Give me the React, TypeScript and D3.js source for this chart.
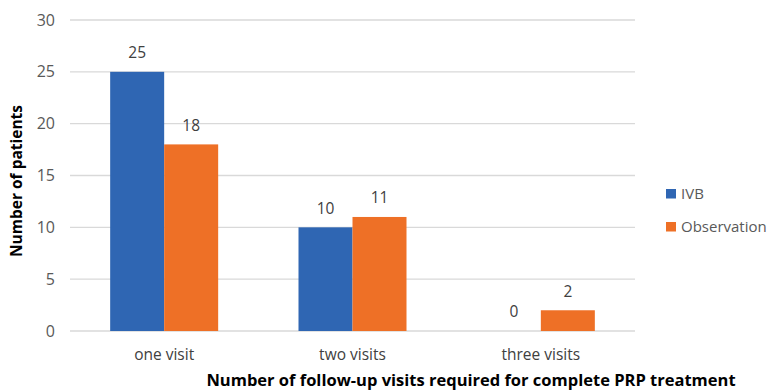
import React from "react";
import * as d3 from "d3";

const categories = ["one visit", "two visits", "three visits"];
const seriesNames = ["IVB", "Observation"];
const ivb = [25, 10, 0];
const observation = [18, 11, 2];
const yTicks = [0, 5, 10, 15, 20, 25, 30];
const colors = ["#2F66B3", "#EE7026"];

export default function App() {
  const W = 767, H = 390;
  const left = 70, right = 635, top = 20, bottom = 331;
  const x0 = d3.scaleBand().domain(categories).range([left, right]).paddingInner(0).paddingOuter(0);
  const bw = 54;
  const x1 = d3.scaleBand().domain(seriesNames).range([0, bw * 2]);
  const y = d3.scaleLinear().domain([0, 30]).range([bottom, top]);
  const data = [ivb, observation];
  const font = "'Open Sans', 'DejaVu Sans', sans-serif";
  return (
    <svg width={W} height={H} style={{ position: "absolute", left: 0, top: 0 }} fontFamily={font}>
      <rect width={W} height={H} fill="#fff" />
      {yTicks.map((t) => (
        <g key={t}>
          <line x1={left} x2={right} y1={y(t)} y2={y(t)} stroke="#D9D9D9" strokeWidth={1.3} />
          <text x={55} y={y(t)} dy="0.35em" textAnchor="end" fontSize={16} fill="#595959">{t}</text>
        </g>
      ))}
      {categories.map((c, i) => {
        const cx = (x0(c) as number) + x0.bandwidth() / 2;
        const gx = cx - bw;
        return (
          <g key={c}>
            {seriesNames.map((s, j) => {
              const v = data[j][i];
              const bx = gx + (x1(s) as number);
              return (
                <g key={s}>
                  {v > 0 && <rect x={bx} y={y(v)} width={x1.bandwidth()} height={y(0) - y(v)} fill={colors[j]} />}
                  <text x={bx + x1.bandwidth() / 2} y={y(v) - 19} dy="0.35em" textAnchor="middle" fontSize={15.5} fill="#404040">{v}</text>
                </g>
              );
            })}
            <text x={cx} y={355} dy="0.35em" textAnchor="middle" fontSize={15.5} fill="#404040">{c}</text>
          </g>
        );
      })}
      {seriesNames.map((s, j) => (
        <g key={s} transform={`translate(666, ${189 + j * 33})`}>
          <rect x={0} y={0} width={10} height={9.5} fill={colors[j]} />
          <text x={15} y={5} dy="0.35em" fontSize={15} fill="#595959">{s}</text>
        </g>
      ))}
      <text transform={`translate(17, 181) rotate(-90)`} textAnchor="middle" dy="0.35em" fontSize={15.5} fontWeight="bold" fill="#000">Number of patients</text>
      <text x={471} y={380} dy="0.35em" textAnchor="middle" fontSize={16.5} fontWeight="bold" fill="#000">Number of follow-up visits required for complete PRP treatment</text>
    </svg>
  );
}
